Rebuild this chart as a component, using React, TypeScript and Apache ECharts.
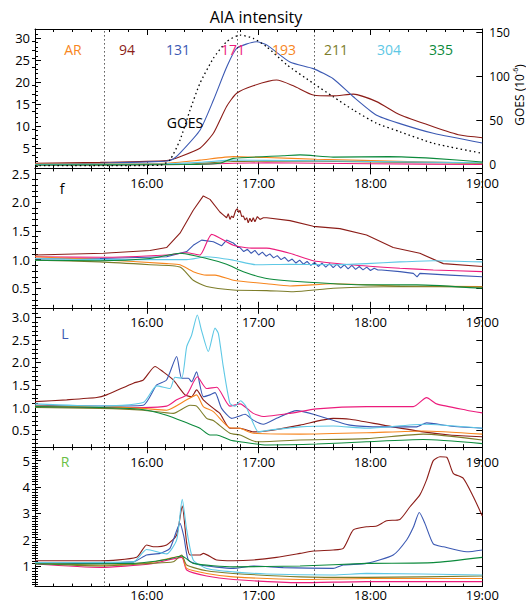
import React, { useEffect, useRef } from "react";
import * as echarts from "echarts";

// ---------- DATA (time in minutes after 15:00, value) ----------
const WAVES = ["94", "131", "171", "193", "211", "304", "335"];
const COLORS: Record<string, string> = {
  "94": "#8c1d18",
  "131": "#3b59b3",
  "171": "#ec1c7c",
  "193": "#f7861e",
  "211": "#7d7d2a",
  "304": "#5ec8e5",
  "335": "#0c8a3c",
};
const LEGEND_LABELS = ["AR", "94", "131", "171", "193", "211", "304", "335"];
const LEGEND_COLORS = ["#f7861e", "#8c1d18", "#3b59b3", "#ec1c7c", "#f7861e", "#7d7d2a", "#5ec8e5", "#0c8a3c"];
const PANEL_LABELS = ["", "f", "L", "R"];
const PANEL_LABEL_COLORS = ["#000", "#000", "#3b59b3", "#6abf45"];
const VLINES = [37, 108.7, 150];
const HOUR_LABELS = ["", "16:00", "17:00", "18:00", "19:00"];

// y tick labels
const A_TICKS = [5, 10, 15, 20, 25, 30];
const GOES_TICKS = [0, 50, 100, 150];
const F_TICKS = [0.5, 1.0, 1.5, 2.0, 2.5];
const L_TICKS = [0.5, 1.0, 1.5, 2.0, 2.5, 3.0];
const R_TICKS = [1, 2, 3, 4, 5];

// Top panel (AIA intensity), GOES on right axis
const GOES = [[0, -1.6], [67.1, -1.2], [72.4, 5], [77.8, 27.6], [83.2, 61.7], [88.5, 92], [95.7, 120.4], [102.8, 139.3], [110, 146.9], [117.1, 143.2], [124.3, 133.6], [135, 113.3], [149.3, 92], [160, 76.8], [170.8, 61.7], [183.3, 46.6], [195.8, 37], [213.7, 23.9], [240, 12.5]];
const A_94 = [[0, 1.6], [35, 1.8], [70.6, 2.2], [77.8, 3.1], [88.5, 5.0], [95.7, 8.4], [102.8, 14.5], [108.2, 17.5], [117.1, 19.2], [129.6, 20.5], [138.6, 19.2], [149.3, 17.1], [160, 16.9], [170.8, 17.3], [183.3, 15.6], [195.8, 12.6], [213.7, 9.9], [228, 8.0], [240, 7.4]];
const A_131 = [[0, 1.4], [35, 1.6], [60, 1.9], [70.6, 2.1], [74, 2.5], [77.8, 3.9], [88.5, 9.1], [95.7, 15.9], [102.8, 23.4], [108.2, 27.7], [118.9, 29.2], [124.3, 28.5], [136.8, 24.6], [149.3, 23.1], [160, 20.8], [170.8, 16.7], [183.3, 12.5], [195.8, 10.6], [213.7, 8.4], [240, 6.2]];
const A_171 = [[0, 1.2], [80, 1.3], [106.4, 1.6], [124.3, 1.7], [180, 1.5], [240, 1.3]];
const A_193 = [[0, 1.4], [70, 1.6], [88.5, 2.3], [106.4, 3.1], [124.3, 2.9], [151, 2.5], [200, 2.0], [240, 1.6]];
const A_211 = [[0, 1.2], [80, 1.4], [106.4, 2.0], [142.2, 2.1], [200, 1.8], [240, 1.6]];
const A_304 = [[0, 1.3], [70, 1.5], [88.5, 1.8], [106.4, 2.3], [140, 2.2], [180, 2.0], [240, 1.7]];
const A_335 = [[0, 1.2], [80, 1.3], [99.2, 1.6], [106.4, 2.7], [133.2, 3.3], [142.2, 3.5], [160, 3.0], [190, 3.1], [213.7, 2.7], [240, 1.9]];

// Panel f
const F_94 = [[0, 1.08], [36.7, 1.11], [61.7, 1.16], [70.6, 1.21], [77.8, 1.46], [84.9, 1.86], [90.3, 2.11], [93.9, 2.05], [99.2, 1.83], [101.0, 1.78], [102.8, 1.73], [103.7, 1.8], [104.6, 1.7], [105.5, 1.76], [106.4, 1.73], [107.7, 1.86], [108.6, 1.89], [109.3, 1.82], [110.0, 1.86], [110.9, 1.75], [111.8, 1.76], [112.7, 1.69], [113.6, 1.73], [114.4, 1.64], [115.3, 1.72], [116.2, 1.66], [117.1, 1.73], [118.0, 1.66], [119.3, 1.75], [120.7, 1.7], [122.5, 1.73], [124.3, 1.73], [136.8, 1.68], [149.3, 1.58], [163.6, 1.54], [177.9, 1.43], [192.2, 1.21], [206.5, 1.11], [219.1, 0.93], [240, 0.88]];
const F_131 = [[0, 1.01], [34.9, 1.02], [70.6, 1.05], [81.4, 1.14], [84.9, 1.25], [89.4, 1.34], [95.7, 1.31], [100.1, 1.24], [102.8, 1.34], [106.4, 1.29], [109.1, 1.21], [110, 1.21], [112, 1.14], [114, 1.18], [116, 1.11], [118, 1.16], [120, 1.08], [122, 1.13], [124, 1.06], [126, 1.10], [128, 1.03], [130, 1.07], [132, 1.0], [134, 1.04], [136, 0.97], [138, 1.01], [140, 0.94], [142, 0.99], [144, 0.92], [146, 0.97], [148, 0.9], [150, 0.95], [152, 0.88], [154, 0.94], [156, 0.87], [158, 0.93], [160, 0.86], [162, 0.92], [164, 0.85], [166, 0.91], [168, 0.84], [170, 0.9], [172, 0.83], [174, 0.88], [176, 0.82], [178, 0.87], [180, 0.81], [182, 0.85], [184, 0.82], [186, 0.82], [195.8, 0.79], [203, 0.76], [205, 0.7], [206.5, 0.76], [222.6, 0.73], [240, 0.7]];
const F_171 = [[0, 1.05], [34.9, 1.04], [70.6, 1.08], [81.4, 1.12], [88.5, 1.08], [94.8, 1.44], [106.4, 1.25], [117.1, 1.2], [124.3, 1.2], [136.8, 1.11], [149.3, 0.98], [169, 0.91], [195.8, 0.85], [213.7, 0.82], [240, 0.79]];
const F_193 = [[0, 1.05], [34.9, 1.0], [70.6, 0.93], [77.8, 0.91], [84.9, 0.79], [92.1, 0.73], [96.6, 0.73], [106.4, 0.64], [124.3, 0.58], [136.8, 0.54], [160, 0.58], [195.8, 0.54], [240, 0.53]];
const F_211 = [[0, 0.99], [34.9, 0.96], [61.7, 0.91], [77.8, 0.87], [84.9, 0.64], [92.1, 0.53], [106.4, 0.47], [124.3, 0.46], [138.6, 0.44], [160, 0.5], [195.8, 0.53], [240, 0.52]];
const F_304 = [[0, 1.02], [34.9, 1.0], [81.4, 1.0], [92.1, 1.05], [106.4, 0.99], [118.9, 0.91], [136.8, 0.92], [160, 0.91], [177.9, 0.93], [195.8, 0.96], [213.7, 0.98], [240, 0.96]];
const F_335 = [[0, 0.99], [34.9, 0.98], [61.7, 1.02], [77.8, 1.11], [92.1, 1.02], [102.8, 0.92], [111.8, 0.79], [124.3, 0.67], [149.3, 0.6], [177.9, 0.56], [204.8, 0.56], [240, 0.5]];

// Panel L
const L_94 = [[0, 1.13], [17, 1.17], [33.1, 1.22], [38.4, 1.28], [52.8, 1.54], [58.1, 1.61], [64.4, 1.91], [68.8, 1.79], [74.2, 1.61], [80.5, 1.28], [84.0, 1.24], [86.7, 1.39], [90.3, 1.17], [95.7, 0.98], [99.2, 0.87], [104.6, 0.54], [110, 0.54], [117.1, 0.46], [124.3, 0.48], [142.2, 0.61], [160, 0.76], [169, 0.74], [186.9, 0.61], [208.3, 0.46], [222.6, 0.39], [240, 0.35]];
const L_131 = [[0, 1.05], [34.9, 1.03], [58.1, 1.05], [65.3, 1.5], [70.6, 1.61], [76.0, 2.13], [78.7, 1.65], [82.3, 1.65], [84.0, 1.57], [86.7, 1.79], [90.3, 1.24], [93.9, 1.28], [96.6, 1.33], [100.1, 0.98], [105.5, 0.76], [109.1, 0.8], [112.7, 0.85], [117.1, 0.72], [122.5, 0.63], [129.6, 0.76], [140.4, 0.93], [151.1, 0.83], [169, 0.61], [186.9, 0.57], [204.8, 0.57], [210.1, 0.66], [222.6, 0.59], [240, 0.54]];
const L_171 = [[0, 1.02], [34.9, 1.0], [58.1, 1.0], [70.6, 1.03], [76.0, 1.17], [81.4, 1.28], [87.1, 1.68], [92.1, 1.42], [97.5, 1.45], [104.6, 1.03], [110, 1.08], [117.1, 0.87], [122.5, 0.8], [136.8, 0.87], [151.1, 0.97], [177.9, 1.02], [203, 1.02], [210.1, 1.22], [215.5, 1.08], [231.6, 0.94], [240, 0.88]];
const L_193 = [[0, 1.03], [34.9, 1.02], [58.1, 0.98], [70.6, 0.94], [81.4, 1.17], [86.7, 1.28], [90.3, 1.02], [95.7, 0.91], [104.6, 0.55], [110, 0.54], [117.1, 0.43], [142.2, 0.41], [177.9, 0.44], [208.3, 0.48], [240, 0.41]];
const L_211 = [[0, 1.0], [34.9, 0.98], [58.1, 0.94], [74.2, 0.87], [83.2, 1.05], [86.7, 1.03], [92.1, 0.76], [95.7, 0.71], [104.6, 0.43], [110, 0.39], [118.9, 0.24], [142.2, 0.28], [177.9, 0.31], [208.3, 0.41], [240, 0.28]];
const L_304 = [[0, 1.08], [34.9, 1.03], [58.1, 1.11], [65.3, 1.48], [72.4, 1.42], [75.1, 1.67], [78.7, 1.65], [81.4, 2.35], [84.0, 2.6], [87.1, 3.05], [89.4, 2.7], [93.0, 2.24], [96.6, 2.76], [98.4, 2.64], [101.0, 1.91], [104.6, 1.09], [107.3, 1.03], [110.3, 1.15], [113.0, 1.04], [117.1, 0.65], [119.8, 0.46], [124.3, 0.49], [142.2, 0.57], [160, 0.59], [177.9, 0.54], [208.3, 0.63], [240, 0.54]];
const L_335 = [[0, 1.02], [34.9, 1.0], [56.3, 0.96], [70.6, 0.83], [81.4, 0.66], [88.5, 0.54], [93.9, 0.39], [97.5, 0.39], [104.6, 0.28], [110, 0.24], [124.3, 0.17], [151.1, 0.19], [177.9, 0.24], [208.3, 0.29], [240, 0.2]];

// Panel R
const R_94 = [[0, 1.2], [34.9, 1.2], [54.5, 1.33], [59.9, 1.8], [63.5, 1.73], [70.6, 1.8], [76.0, 2.18], [79.0, 3.28], [81.4, 1.86], [83.2, 1.42], [88.5, 1.42], [90.3, 1.48], [97.5, 1.23], [106.4, 1.2], [117.1, 1.23], [129.6, 1.33], [142.2, 1.48], [149.3, 1.57], [160, 1.61], [165.4, 1.67], [170.8, 2.37], [177.9, 2.49], [183.3, 2.52], [188.7, 2.72], [195.8, 2.77], [201.2, 3.25], [206.5, 3.7], [210.1, 4.27], [213.7, 5.0], [217.3, 5.15], [220.9, 5.13], [224.4, 4.52], [229.8, 4.33], [235.2, 3.63], [240, 2.9]];
const R_131 = [[0, 1.1], [52.8, 1.16], [59.9, 1.42], [67.1, 1.48], [72.4, 1.67], [77.8, 2.62], [79.9, 2.11], [82.3, 1.23], [88.5, 1.04], [106.4, 0.91], [117.1, 1.0], [133.2, 0.94], [160, 0.91], [165.4, 1.04], [177.9, 1.1], [192.2, 1.42], [199.4, 1.99], [203, 2.47], [206.2, 3.03], [209.2, 2.62], [213.7, 1.84], [219.1, 1.73], [231.6, 1.54], [240, 1.61]];
const R_171 = [[0, 1.08], [34.9, 0.95], [61.7, 1.08], [78.7, 1.33], [81.4, 0.85], [92.1, 0.62], [106.4, 0.49], [142.2, 0.37], [177.9, 0.41], [240, 0.41]];
const R_193 = [[0, 1.13], [34.9, 1.03], [61.7, 1.13], [78.7, 1.38], [81.4, 0.91], [92.1, 0.72], [106.4, 0.59], [142.2, 0.49], [177.9, 0.53], [240, 0.53]];
const R_211 = [[0, 1.1], [34.9, 1.0], [61.7, 1.1], [74.2, 1.16], [78.7, 1.42], [81.4, 1.04], [92.1, 0.82], [106.4, 0.72], [142.2, 0.59], [177.9, 0.57], [240, 0.62]];
const R_304 = [[0, 1.13], [52.8, 1.16], [59.9, 1.63], [70.6, 1.46], [76.0, 1.99], [79.0, 3.53], [81.4, 2.37], [84.9, 1.23], [92.1, 0.91], [106.4, 0.78], [124.3, 0.7], [160, 0.66], [177.9, 0.72], [240, 0.66]];
const R_335 = [[0, 1.08], [52.8, 1.1], [70.6, 1.25], [78.7, 1.38], [84.9, 1.1], [106.4, 0.97], [142.2, 1.0], [177.9, 1.1], [213.7, 1.13], [240, 1.33]];

const PANEL_DATA: Record<string, number[][]>[] = [
  { "94": A_94, "131": A_131, "171": A_171, "193": A_193, "211": A_211, "304": A_304, "335": A_335 },
  { "94": F_94, "131": F_131, "171": F_171, "193": F_193, "211": F_211, "304": F_304, "335": F_335 },
  { "94": L_94, "131": L_131, "171": L_171, "193": L_193, "211": L_211, "304": L_304, "335": L_335 },
  { "94": R_94, "131": R_131, "171": R_171, "193": R_193, "211": R_211, "304": R_304, "335": R_335 },
];

// ---------- LAYOUT ----------
const FONT = "'Open Sans', 'Liberation Sans', sans-serif";
const LEFT = 35;
const WIDTH = 447.3;
const TOP = 29;
const H = 139.4;

const range = (a: number, b: number, s: number) =>
  Array.from({ length: Math.round((b - a) / s) + 1 }, (_, i) => +(a + i * s).toFixed(3));
const minorOf = (all: number[], major: number[]) =>
  all.filter((v) => !major.some((m) => Math.abs(m - v) < 1e-6));

const PANELS = [
  { min: 0.43, max: 32.1, major: A_TICKS, minor: minorOf(range(1, 32, 1), A_TICKS), fmt: (v: number) => String(v), xMargin: 8 },
  { min: 0.16, max: 2.59, major: F_TICKS, minor: minorOf(range(0.2, 2.5, 0.1), F_TICKS), fmt: (v: number) => v.toFixed(1), xMargin: 8 },
  { min: 0.12, max: 3.21, major: L_TICKS, minor: minorOf(range(0.2, 3.2, 0.1), L_TICKS), fmt: (v: number) => v.toFixed(1), xMargin: 8 },
  { min: 0.22, max: 5.51, major: R_TICKS, minor: minorOf(range(0.3, 5.5, 0.1), R_TICKS), fmt: (v: number) => String(v), xMargin: 2 },
];

function buildOption() {
  const black = { color: "#000", width: 1 };
  const grid = PANELS.map((_, i) => ({
    left: LEFT,
    width: WIDTH,
    top: TOP + i * H,
    height: H,
    containLabel: false,
    outerBoundsMode: "none",
  }));

  const xAxis: any[] = [];
  const yAxis: any[] = [];
  PANELS.forEach((p, i) => {
    const base = {
      type: "value",
      gridIndex: i,
      min: 0,
      max: 240,
      interval: 60,
      splitLine: { show: false },
      minorSplitLine: { show: false },
      axisLine: { show: true, onZero: false, lineStyle: black },
      axisTick: { show: true, inside: true, length: 6, lineStyle: black },
      minorTick: { show: true, splitNumber: 6, length: 3, lineStyle: black },
    };
    xAxis.push({
      ...base,
      position: "bottom",
      axisLabel: {
        show: true,
        margin: p.xMargin,
        color: "#000",
        fontSize: 13,
        fontFamily: FONT,
        showMinLabel: true,
        showMaxLabel: true,
        hideOverlap: false,
        formatter: (v: number) => HOUR_LABELS[Math.round(v / 60)] ?? "",
      },
    });
    xAxis.push({ ...base, position: "top", axisLabel: { show: false } });

    const yBase = {
      type: "value",
      gridIndex: i,
      min: p.min,
      max: p.max,
      splitLine: { show: false },
    };
    // left major
    yAxis.push({
      ...yBase,
      position: "left",
      axisLine: { show: true, onZero: false, lineStyle: black },
      axisTick: { show: true, inside: true, length: 6, lineStyle: black, customValues: p.major },
      axisLabel: {
        show: true,
        customValues: p.major,
        formatter: p.fmt,
        margin: 5,
        color: "#000",
        fontSize: 13,
        fontFamily: FONT,
      },
    });
    // left minor
    yAxis.push({
      ...yBase,
      position: "left",
      axisLine: { show: false },
      axisTick: { show: true, inside: true, length: 3, lineStyle: black, customValues: p.minor },
      axisLabel: { show: false },
    });
    if (i === 0) {
      yAxis.push({
        type: "value",
        gridIndex: 0,
        position: "right",
        min: -4.66,
        max: 153.75,
        splitLine: { show: false },
        axisLine: { show: true, onZero: false, lineStyle: black },
        axisTick: { show: true, inside: true, length: 6, lineStyle: black, customValues: GOES_TICKS },
        axisLabel: {
          show: true,
          customValues: GOES_TICKS,
          margin: 7,
          color: "#000",
          fontSize: 12,
          fontFamily: FONT,
        },
      });
      yAxis.push({
        type: "value",
        gridIndex: 0,
        position: "right",
        min: -4.66,
        max: 153.75,
        splitLine: { show: false },
        axisLine: { show: false },
        axisTick: { show: true, inside: true, length: 3, lineStyle: black, customValues: minorOf(range(10, 150, 10), GOES_TICKS) },
        axisLabel: { show: false },
      });
    } else {
      yAxis.push({
        ...yBase,
        position: "right",
        axisLine: { show: true, onZero: false, lineStyle: black },
        axisTick: { show: true, inside: true, length: 6, lineStyle: black, customValues: p.major },
        axisLabel: { show: false },
      });
      yAxis.push({
        ...yBase,
        position: "right",
        axisLine: { show: false },
        axisTick: { show: true, inside: true, length: 3, lineStyle: black, customValues: p.minor },
        axisLabel: { show: false },
      });
    }
  });

  const series: any[] = [];
  PANEL_DATA.forEach((pd, i) => {
    WAVES.forEach((w, k) => {
      const jagged = (i === 1 && (w === "94" || w === "131"));
      series.push({
        type: "line",
        name: `${w}-${i}`,
        xAxisIndex: 2 * i,
        yAxisIndex: 4 * i,
        data: pd[w],
        showSymbol: false,
        symbol: "none",
        smooth: jagged ? false : 0.2,
        lineStyle: { color: COLORS[w], width: 1.1 },
        z: 3,
        markLine:
          k === 0
            ? {
                silent: true,
                symbol: ["none", "none"],
                label: { show: false },
                lineStyle: { color: "#000", type: [1, 3], width: 1 },
                data: VLINES.map((v) => ({ xAxis: v })),
              }
            : undefined,
      });
    });
  });
  series.push({
    type: "line",
    name: "GOES",
    xAxisIndex: 0,
    yAxisIndex: 2,
    data: GOES,
    showSymbol: false,
    symbol: "none",
    smooth: 0.2,
    lineStyle: { color: "#000", width: 1.3, type: [1.5, 3] },
    z: 4,
  });

  const txt = (text: string, x: number, y: number, color: string, size: number, extra: any = {}) => ({
    type: "text",
    x,
    y,
    z: 10,
    style: { text, fill: color, fontSize: size, fontFamily: FONT, align: "center", verticalAlign: "middle", ...extra },
  });
  const LEGEND_X = [73, 127, 178, 233, 284, 336, 389, 441];
  const graphic: any[] = [
    txt("AIA intensity", 256, 17, "#000", 16),
    ...LEGEND_LABELS.map((l, i) => txt(l, LEGEND_X[i], 49, LEGEND_COLORS[i], 14)),
    txt("GOES", 185, 122, "#000", 14),
    txt(PANEL_LABELS[1], 62, 188, PANEL_LABEL_COLORS[1], 14),
    txt(PANEL_LABELS[2], 65, 333, PANEL_LABEL_COLORS[2], 14),
    txt(PANEL_LABELS[3], 65, 461, PANEL_LABEL_COLORS[3], 14),
    {
      type: "text",
      x: 519,
      y: 95,
      rotation: Math.PI / 2,
      z: 10,
      style: {
        text: "GOES (10{s|-6})",
        fill: "#000",
        fontSize: 12,
        fontFamily: FONT,
        align: "center",
        verticalAlign: "middle",
        rich: { s: { fontSize: 7, fontFamily: FONT, fill: "#000", verticalAlign: "top", lineHeight: 14 } },
      },
    },
  ];

  return {
    animation: false,
    backgroundColor: "#fff",
    textStyle: { fontFamily: FONT },
    grid,
    xAxis,
    yAxis,
    series,
    graphic,
  };
}

export default function App() {
  const ref = useRef<HTMLDivElement>(null);
  useEffect(() => {
    if (!ref.current) return;
    const chart = echarts.init(ref.current, null, { renderer: "svg" });
    chart.setOption(buildOption() as any);
    return () => chart.dispose();
  }, []);
  return (
    <div
      ref={ref}
      style={{ position: "fixed", left: 0, top: 0, width: 526, height: 608, background: "#fff" }}
    />
  );
}
